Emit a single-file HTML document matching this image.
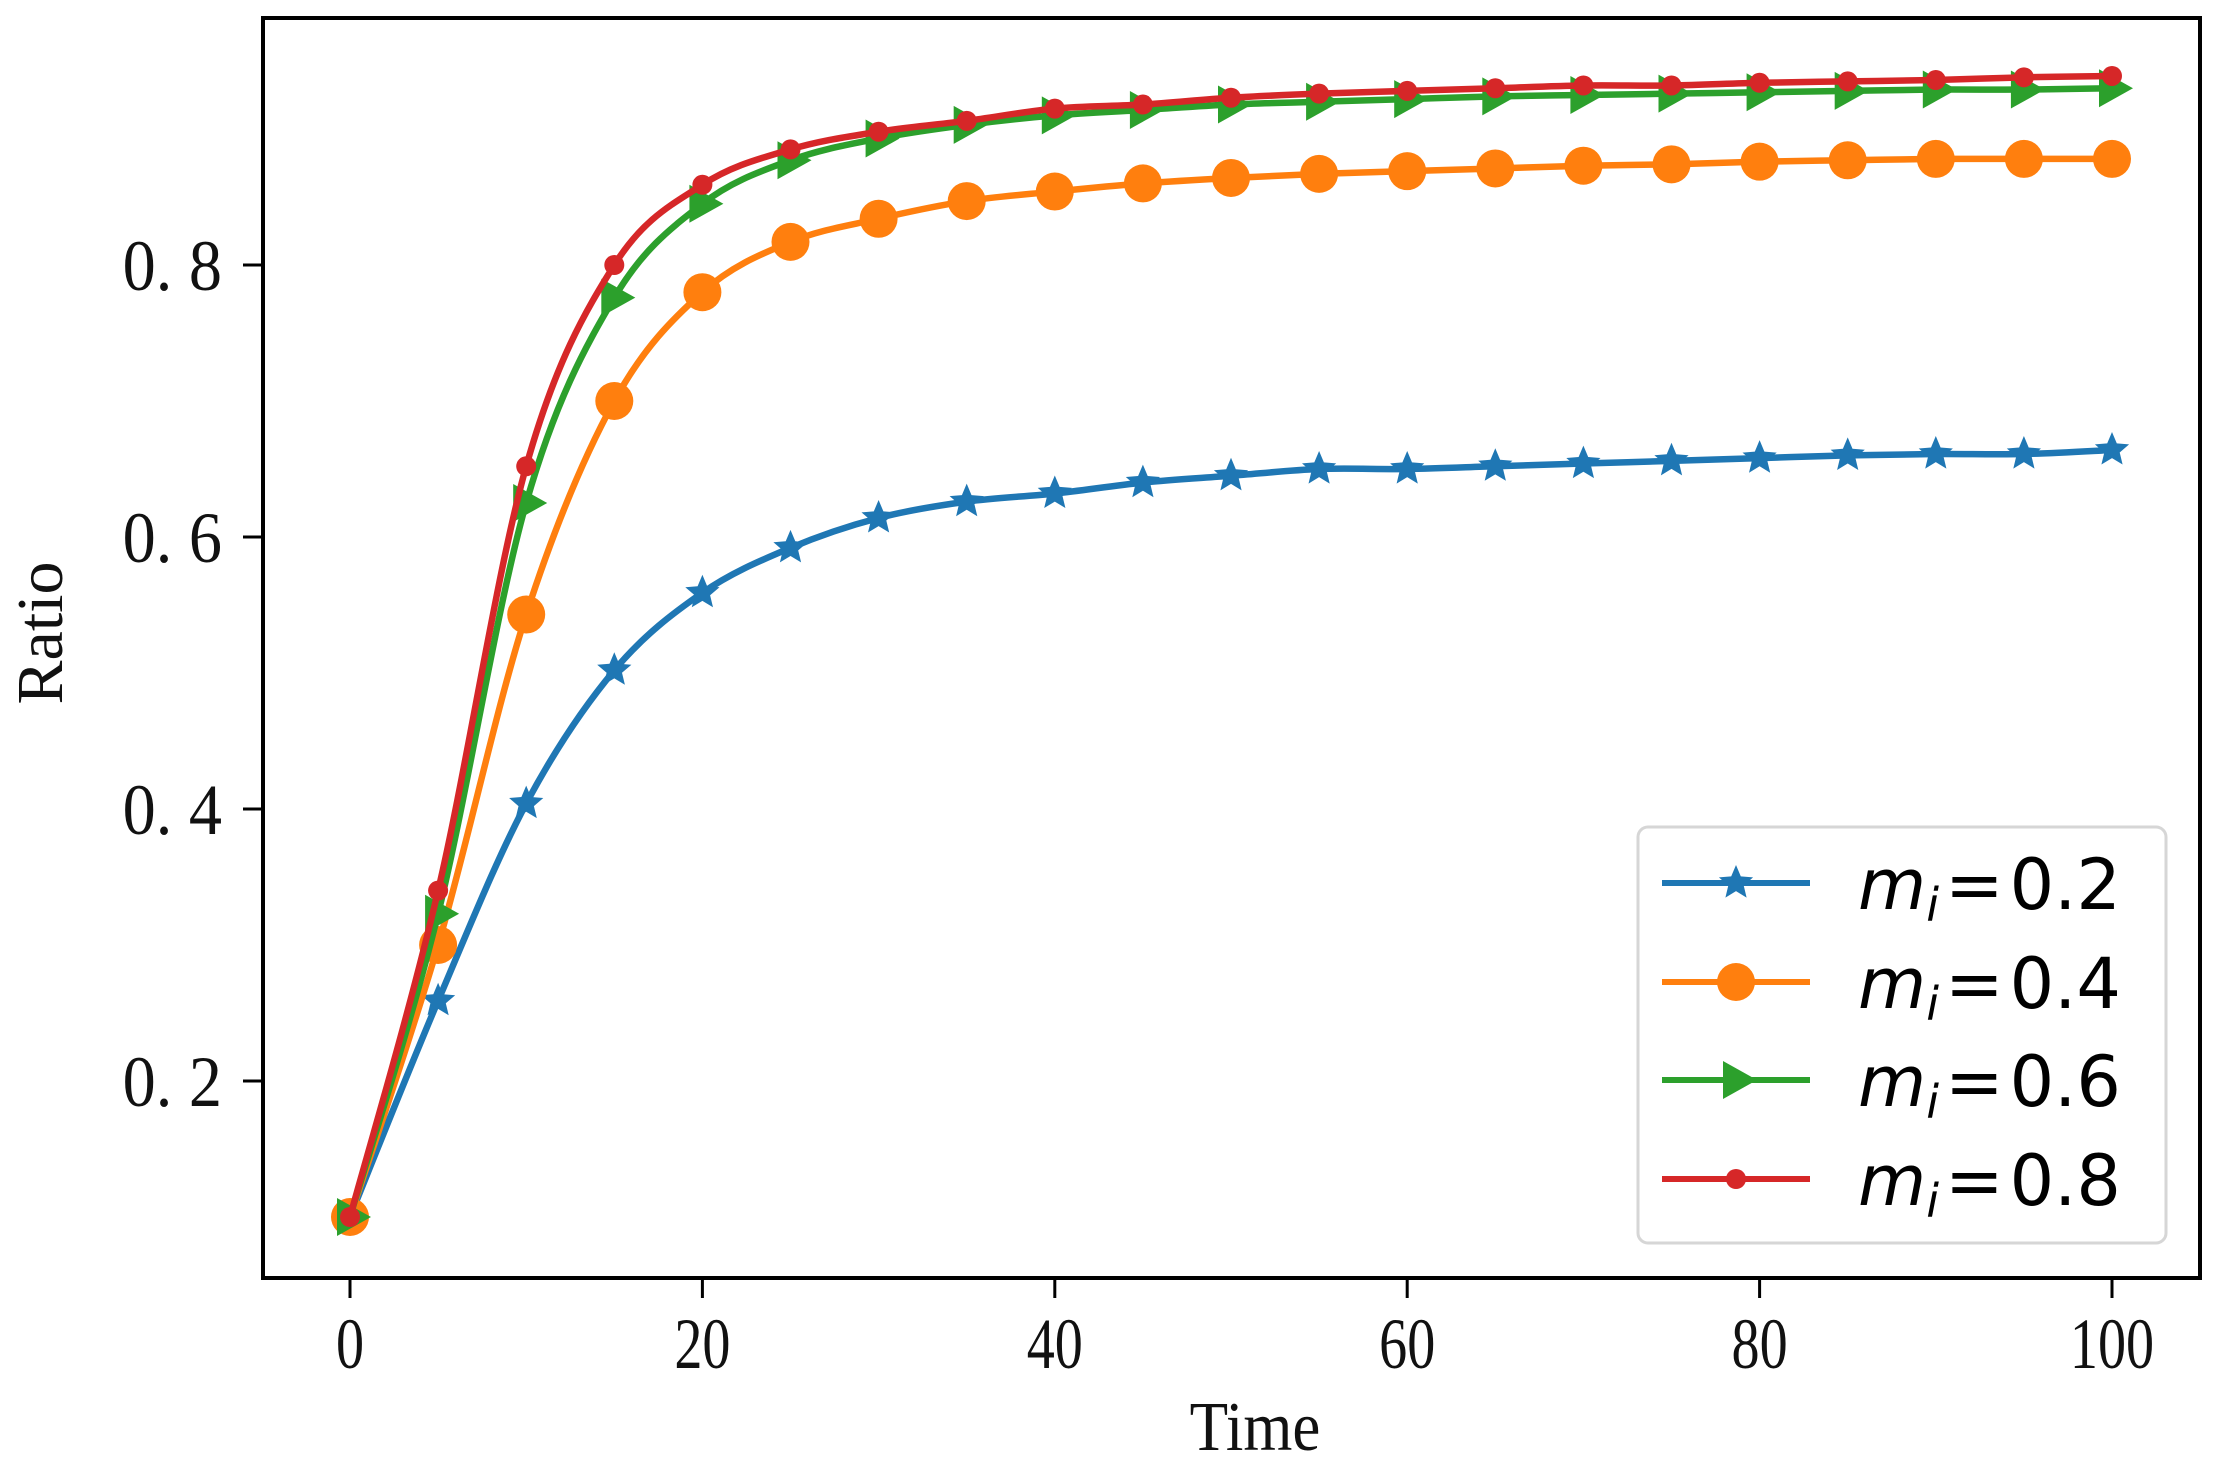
<!DOCTYPE html>
<html><head><meta charset="utf-8"><style>
html,body{margin:0;padding:0;background:#fff;}
svg{display:block;}
</style></head><body>
<svg id="chart" width="2214" height="1462" viewBox="0 0 2214 1462" xmlns="http://www.w3.org/2000/svg">
<rect x="0" y="0" width="2214" height="1462" fill="#fff"/>
<g id="plot"></g>
<g id="axes"></g>
<g id="legend"></g>
</svg>
<script>
const times = [0,5,10,15,20,25,30,35,40,45,50,55,60,65,70,75,80,85,90,95,100];
const seriesLabels = ["0.2","0.4","0.6","0.8"];
const seriesM02 = [0.1,0.259,0.404,0.502,0.559,0.592,0.614,0.626,0.632,0.640,0.645,0.650,0.650,0.652,0.654,0.656,0.658,0.660,0.661,0.661,0.664];
const seriesM04 = [0.1,0.30,0.543,0.70,0.78,0.817,0.834,0.847,0.854,0.860,0.864,0.867,0.869,0.871,0.873,0.874,0.876,0.877,0.878,0.878,0.878];
const seriesM06 = [0.1,0.323,0.625,0.776,0.845,0.877,0.893,0.903,0.910,0.914,0.918,0.920,0.922,0.924,0.925,0.926,0.927,0.928,0.929,0.929,0.930];
const seriesM08 = [0.1,0.34,0.652,0.80,0.859,0.885,0.898,0.906,0.915,0.918,0.923,0.926,0.928,0.930,0.932,0.932,0.934,0.935,0.936,0.938,0.939];
const xTicks = [0,20,40,60,80,100];
const xTickLabels = ["0","20","40","60","80","100"];
const yTicks = [0.2,0.4,0.6,0.8];
const yTickLabels = ["0. 2","0. 4","0. 6","0. 8"];

const NS = "http://www.w3.org/2000/svg";
const L = 263, R = 2200, T = 18, B = 1278;
function xs(t){ return 350 + t * 17.62; }
function ys(v){ return 265 + (0.8 - v) * 1360; }
function mk(tag, attrs, parent){ const e = document.createElementNS(NS, tag); for (const k in attrs) e.setAttribute(k, attrs[k]); parent.appendChild(e); return e; }

const plot = document.getElementById('plot');
const axes = document.getElementById('axes');
const legend = document.getElementById('legend');

function smoothPath(pts){
  let d = `M${pts[0][0]},${pts[0][1]}`;
  for (let i = 0; i < pts.length - 1; i++) {
    const p0 = pts[Math.max(0,i-1)], p1 = pts[i], p2 = pts[i+1], p3 = pts[Math.min(pts.length-1,i+2)];
    const c1x = p1[0] + (p2[0]-p0[0])/6, c1y = p1[1] + (p2[1]-p0[1])/6;
    const c2x = p2[0] - (p3[0]-p1[0])/6, c2y = p2[1] - (p3[1]-p1[1])/6;
    d += ` C${c1x},${c1y} ${c2x},${c2y} ${p2[0]},${p2[1]}`;
  }
  return d;
}
function starPts(cx, cy, r){
  const a = [];
  for (let i = 0; i < 10; i++) {
    const rr = i % 2 === 0 ? r : r * 0.45;
    const ang = -Math.PI/2 + i * Math.PI/5;
    a.push((cx + rr*Math.cos(ang)).toFixed(1) + ',' + (cy + rr*Math.sin(ang)).toFixed(1));
  }
  return a.join(' ');
}
function drawMarker(kind, cx, cy, color, parent){
  let m;
  if (kind === 'star') m = mk('polygon', {points: starPts(cx, cy, 18), fill: color}, parent);
  else if (kind === 'circle') m = mk('circle', {cx: cx, cy: cy, r: 19, fill: color}, parent);
  else if (kind === 'tri') m = mk('polygon', {points: `${cx-13},${cy-19} ${cx+21},${cy} ${cx-13},${cy+19}`, fill: color}, parent);
  else m = mk('circle', {cx: cx, cy: cy, r: 10, fill: color}, parent);
  return m;
}

const series = [
  {vals: seriesM02, color: '#1f77b4', kind: 'star', name: 'series-m-0-2'},
  {vals: seriesM04, color: '#ff7f0e', kind: 'circle', name: 'series-m-0-4'},
  {vals: seriesM06, color: '#2ca02c', kind: 'tri', name: 'series-m-0-6'},
  {vals: seriesM08, color: '#d62728', kind: 'dot', name: 'series-m-0-8'}
];

series.forEach(s => {
  const g = mk('g', {}, plot);
  
  
  const pts = times.map((t, i) => [xs(t), ys(s.vals[i])]);
  const line = mk('path', {d: smoothPath(pts), fill: 'none', stroke: s.color, 'stroke-width': 6.5, 'stroke-linejoin': 'round'}, g);
  
  
  pts.forEach(p => {
    const m = drawMarker(s.kind, p[0], p[1], s.color, g);
    
    
  });
});

const frame = mk('rect', {x: L, y: T, width: R-L, height: B-T, fill: 'none', stroke: '#000', 'stroke-width': 4}, axes);



xTicks.forEach((t, i) => {
  const x = xs(t);
  const tk = mk('line', {x1: x, y1: B, x2: x, y2: B + 20, stroke: '#000', 'stroke-width': 3}, axes);
  
  
  const tx = mk('text', {x: 0, y: 0, 'text-anchor': 'middle', 'font-family': '"Liberation Serif", serif', 'font-size': 72, fill: '#111', transform: `translate(${x},1368) scale(0.78,1)`}, axes);
  tx.textContent = xTickLabels[i];
  
  
});
yTicks.forEach((v, i) => {
  const y = ys(v);
  const tk = mk('line', {x1: L - 20, y1: y, x2: L, y2: y, stroke: '#000', 'stroke-width': 3}, axes);
  
  
  const tx = mk('text', {x: 0, y: 0, 'text-anchor': 'end', 'font-family': '"Liberation Serif", serif', 'font-size': 72, fill: '#111', transform: `translate(222,${y + 25}) scale(0.92,1)`}, axes);
  tx.textContent = yTickLabels[i];
  
  
});

const xl = mk('text', {x: 0, y: 0, 'text-anchor': 'middle', 'font-family': '"Liberation Serif", serif', 'font-size': 70, fill: '#111', transform: 'translate(1255,1450) scale(0.9,1)'}, axes);
xl.textContent = 'Time';


const yl = mk('text', {x: 0, y: 0, 'text-anchor': 'middle', 'font-family': '"Liberation Serif", serif', 'font-size': 66, fill: '#111', transform: 'translate(62,633) rotate(-90)'}, axes);
yl.textContent = 'Ratio';



const lb = mk('rect', {x: 1638, y: 827, width: 528, height: 416, rx: 10, fill: '#fff', stroke: '#d6d6d6', 'stroke-width': 3}, legend);


const rowY = [883, 982, 1080, 1179];
series.forEach((s, i) => {
  const g = mk('g', {}, legend);
  
  
  const y = rowY[i];
  mk('line', {x1: 1662, y1: y, x2: 1810, y2: y, stroke: s.color, 'stroke-width': 6}, g);
  drawMarker(s.kind, 1736, y, s.color, g);
  const t = mk('text', {x: 1858, y: y + 26, 'font-family': '"DejaVu Sans", "Liberation Sans", sans-serif', 'font-size': 70, fill: '#000'}, g);
  const m = mk('tspan', {'font-style': 'italic'}, t); m.textContent = 'm';
  const sub = mk('tspan', {'font-style': 'italic', 'font-size': 46, dy: 12}, t); sub.textContent = 'i';
  const eq = mk('tspan', {dy: -12, dx: 6}, t); eq.textContent = '=';
  const rest = mk('tspan', {dx: 6}, t); rest.textContent = seriesLabels[i];
});
</script>
</body></html>
